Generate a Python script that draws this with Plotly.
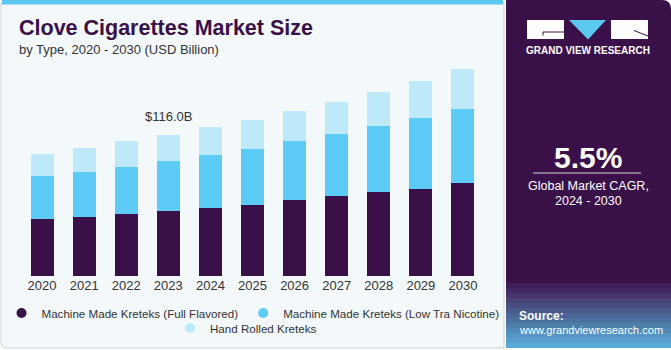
import plotly.graph_objects as go

# ---------------- data ----------------
years = ["2020", "2021", "2022", "2023", "2024", "2025", "2026", "2027", "2028", "2029", "2030"]
full_flavored = [46.9, 48.3, 51.0, 53.5, 56.2, 58.4, 62.3, 65.6, 69.1, 71.8, 76.3]
low_tar = [35.4, 37.0, 38.9, 41.1, 43.6, 46.1, 48.8, 51.5, 54.3, 58.2, 61.4]
hand_rolled = [18.1, 19.7, 20.9, 21.4, 22.8, 23.9, 24.9, 26.3, 28.0, 30.4, 32.4]
series_names = [
    "Machine Made Kreteks (Full Flavored)",
    "Machine Made Kreteks (Low Tra Nicotine)",
    "Hand Rolled Kreteks",
]
highlight_year = "2023"
cagr_text = "5.5%"

# ---------------- style ----------------
W, H = 671, 350
colors = ["#3a1049", "#5ccbf5", "#bde9f9"]
DARK = "#3a1049"
FONT = "Liberation Sans, Arial, sans-serif"


def X(px):
    return px / W


def Y(py):
    return 1 - py / H


fig = go.Figure()
series = [full_flavored, low_tar, hand_rolled]
for name, vals, col in zip(series_names, series, colors):
    fig.add_trace(go.Bar(x=years, y=vals, name=name, marker=dict(color=col, line=dict(width=0)),
                         showlegend=False, hoverinfo="skip"))

# legend entries (circle symbols); no visible points
for i, (name, col) in enumerate(zip(series_names, colors)):
    fig.add_trace(go.Scatter(x=[years[0]], y=[None], mode="markers", name=name,
                             marker=dict(size=10, color=col, symbol="circle"),
                             hoverinfo="skip",
                             legend="legend" if i < 2 else "legend2"))

hl_idx = years.index(highlight_year)
total_hl = sum(s[hl_idx] for s in series)


def rounded_rect(x0, y0, x1, y1, r_tl, r_tr, r_br, r_bl):
    p = f"M {X(x0 + r_tl)},{Y(y0)} L {X(x1 - r_tr)},{Y(y0)} "
    p += f"Q {X(x1)},{Y(y0)} {X(x1)},{Y(y0 + r_tr)} " if r_tr else ""
    p += f"L {X(x1)},{Y(y1 - r_br)} "
    p += f"Q {X(x1)},{Y(y1)} {X(x1 - r_br)},{Y(y1)} " if r_br else ""
    p += f"L {X(x0 + r_bl)},{Y(y1)} "
    p += f"Q {X(x0)},{Y(y1)} {X(x0)},{Y(y1 - r_bl)} " if r_bl else ""
    p += f"L {X(x0)},{Y(y0 + r_tl)} "
    p += f"Q {X(x0)},{Y(y0)} {X(x0 + r_tl)},{Y(y0)} " if r_tl else ""
    return p + "Z"


shapes = []
shapes.append(dict(type="path", xref="paper", yref="paper", layer="below",
                   path=rounded_rect(1, 1, 504, 348, 5, 0, 0, 6),
                   fillcolor="#f3f8fb", line=dict(color="#cfd2d6", width=1)))
shapes.append(dict(type="rect", xref="paper", yref="paper", layer="below",
                   x0=X(2), x1=X(503), y0=Y(0), y1=Y(4.5),
                   fillcolor="#5bc8f0", line=dict(width=0)))
shapes.append(dict(type="path", xref="paper", yref="paper", layer="below",
                   path=rounded_rect(506, 0, 671, 348, 0, 9, 0, 0),
                   fillcolor=DARK, line=dict(width=0)))
grad = ["#3f1f57", "#432a62", "#45366c", "#474276", "#494e80", "#4a5a8b", "#4b6696",
        "#4c72a1", "#4e7eac", "#5089b8", "#5395c4", "#569fcf", "#5aa9d9"]
n = len(grad)
y_start, y_end = 283, 348
step = (y_end - y_start) / n
for i, c in enumerate(grad):
    shapes.append(dict(type="rect", xref="paper", yref="paper", layer="below",
                       x0=X(506), x1=X(671), y0=Y(y_start + i * step),
                       y1=Y(min(y_end, y_start + (i + 1) * step + 0.5)),
                       fillcolor=c, line=dict(width=0)))
shapes.append(dict(type="rect", xref="paper", yref="paper", x0=X(527), x1=X(564), y0=Y(20), y1=Y(39),
                   fillcolor="white", line=dict(width=0)))
shapes.append(dict(type="path", xref="paper", yref="paper",
                   path=f"M {X(569)},{Y(20)} L {X(606)},{Y(20)} L {X(588)},{Y(39.5)} Z",
                   fillcolor="#5bc8f0", line=dict(width=0)))
shapes.append(dict(type="rect", xref="paper", yref="paper", x0=X(611), x1=X(648), y0=Y(20), y1=Y(39),
                   fillcolor="white", line=dict(width=0)))
shapes.append(dict(type="path", xref="paper", yref="paper",
                   path=f"M {X(564)},{Y(32)} L {X(543)},{Y(32)} L {X(543)},{Y(35.5)}",
                   line=dict(color=DARK, width=1)))
shapes.append(dict(type="path", xref="paper", yref="paper",
                   path=f"M {X(634)},{Y(30.5)} L {X(648)},{Y(36)}",
                   line=dict(color=DARK, width=1)))
shapes.append(dict(type="line", xref="paper", yref="paper", x0=X(533), x1=X(641), y0=Y(173), y1=Y(173),
                   line=dict(color="#d9d3e0", width=1)))

annotations = [
    dict(text="<b>Clove Cigarettes Market Size</b>", x=X(17), y=Y(28), xanchor="left", yanchor="middle",
         font=dict(size=21.5, color=DARK, family=FONT), showarrow=False, xref="paper", yref="paper"),
    dict(text="by Type, 2020 - 2030 (USD Billion)", x=X(17), y=Y(50), xanchor="left", yanchor="middle",
         font=dict(size=13, color="#333333", family=FONT), showarrow=False, xref="paper", yref="paper"),
    dict(text=f"${total_hl:.1f}B", x=hl_idx, y=total_hl, xref="x", yref="y",
         xanchor="center", yanchor="bottom", yshift=9, showarrow=False,
         font=dict(size=13, color="#333333", family=FONT)),
    dict(text="<b>GRAND VIEW RESEARCH</b>", x=X(587.5), y=Y(51), xanchor="center", yanchor="middle",
         font=dict(size=10, color="white", family=FONT), showarrow=False, xref="paper", yref="paper"),
    dict(text=f"<b>{cagr_text}</b>", x=X(587.5), y=Y(157), xanchor="center", yanchor="middle",
         font=dict(size=30, color="white", family=FONT), showarrow=False, xref="paper", yref="paper"),
    dict(text="Global Market CAGR,", x=X(588), y=Y(186), xanchor="center", yanchor="middle",
         font=dict(size=12.5, color="white", family=FONT), showarrow=False, xref="paper", yref="paper"),
    dict(text="2024 - 2030", x=X(588), y=Y(200.5), xanchor="center", yanchor="middle",
         font=dict(size=12.5, color="white", family=FONT), showarrow=False, xref="paper", yref="paper"),
    dict(text="<b>Source:</b>", x=X(517), y=Y(316), xanchor="left", yanchor="middle",
         font=dict(size=12, color="white", family=FONT), showarrow=False, xref="paper", yref="paper"),
    dict(text="www.grandviewresearch.com", x=X(517), y=Y(330), xanchor="left", yanchor="middle",
         font=dict(size=11, color="white", family=FONT), showarrow=False, xref="paper", yref="paper"),
]

baseline_px, top_px = 276, 60
scale = 116.0 / 141.0  # value per pixel
y_max = (baseline_px - top_px) * scale

fig.update_layout(
    width=W, height=H,
    margin=dict(l=0, r=0, t=0, b=0, autoexpand=False),
    paper_bgcolor="white",
    plot_bgcolor="rgba(0,0,0,0)",
    barmode="stack",
    bargap=0.454,
    font=dict(family=FONT, color="#333333"),
    xaxis=dict(domain=[X(21), X(484)], showgrid=False, zeroline=False, showline=False,
               ticks="", tickfont=dict(size=13, color="#333333"), fixedrange=True,
               type="category", categoryorder="array", categoryarray=years,
               range=[-0.5, len(years) - 0.5], automargin=False),
    yaxis=dict(domain=[Y(baseline_px), Y(top_px)], range=[0, y_max], visible=False, fixedrange=True,
               automargin=False),
    legend=dict(orientation="h", x=X(253), xanchor="center", y=Y(313), yanchor="middle",
                font=dict(size=11.6, color="#333333", family=FONT), bgcolor="rgba(0,0,0,0)",
                itemwidth=30, traceorder="normal"),
    legend2=dict(orientation="h", x=X(246), xanchor="center", y=Y(328), yanchor="middle",
                 font=dict(size=11.6, color="#333333", family=FONT), bgcolor="rgba(0,0,0,0)",
                 itemwidth=30, traceorder="normal"),
    shapes=shapes,
    annotations=annotations,
    showlegend=True,
)

fig.write_html("out.html")
